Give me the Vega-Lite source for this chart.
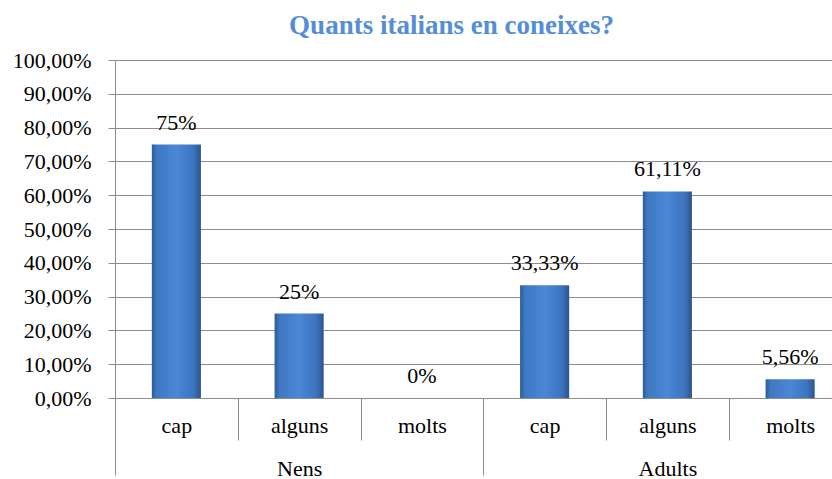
{
  "$schema": "https://vega.github.io/schema/vega-lite/v6.json",
  "autosize": {"type": "none"},
  "padding": {"left": 115, "top": 60, "right": 0, "bottom": 81},
  "width": 717,
  "height": 338,
  "background": "white",
  "config": {
    "view": {"stroke": null},
    "font": "Liberation Serif"
  },
  "title": {
    "text": "Quants italians en coneixes?",
    "font": "Liberation Serif",
    "fontSize": 27,
    "fontWeight": "bold",
    "color": "#558ED5",
    "anchor": "middle",
    "frame": "group",
    "baseline": "alphabetic",
    "dx": -22,
    "dy": 34,
    "offset": 22
  },
  "layer": [
    {
      "data": {
        "values": [
          {"key": "Nens|cap", "group": "Nens", "value": 75, "label": "75%"},
          {"key": "Nens|alguns", "group": "Nens", "value": 25, "label": "25%"},
          {"key": "Nens|molts", "group": "Nens", "value": 0, "label": "0%"},
          {"key": "Adults|cap", "group": "Adults", "value": 33.33, "label": "33,33%"},
          {"key": "Adults|alguns", "group": "Adults", "value": 61.11, "label": "61,11%"},
          {"key": "Adults|molts", "group": "Adults", "value": 5.56, "label": "5,56%"}
        ]
      },
      "encoding": {
        "x": {
          "field": "key",
          "type": "nominal",
          "sort": null,
          "scale": {"range": [0, 736.5], "paddingInner": 0, "paddingOuter": 0},
          "axis": {
            "orient": "bottom",
            "title": null,
            "tickBand": "extent",
            "tickSize": 42,
            "tickColor": "#8c8c8c",
            "domainColor": "#8c8c8c",
            "labelExpr": "split(datum.label, '|')[1]",
            "labelAngle": 0,
            "labelFontSize": 22,
            "labelFont": "Liberation Serif",
            "labelColor": "#000000",
            "labelBaseline": "alphabetic",
            "labelPadding": -8,
            "grid": false
          }
        },
        "y": {
          "field": "value",
          "type": "quantitative",
          "scale": {"domain": [0, 100], "nice": false},
          "axis": {
            "title": null,
            "values": [0, 10, 20, 30, 40, 50, 60, 70, 80, 90, 100],
            "labelExpr": "replace(format(datum.value, '.2f'), '.', ',') + '%'",
            "labelFontSize": 22,
            "labelFont": "Liberation Serif",
            "labelColor": "#000000",
            "tickSize": 7,
            "tickColor": "#8c8c8c",
            "domainColor": "#8c8c8c",
            "gridColor": "#8c8c8c",
            "labelPadding": 17
          }
        }
      },
      "layer": [
        {
          "mark": {
            "type": "bar",
            "width": {"band": 0.4},
            "color": {
              "gradient": "linear",
              "x1": 0, "y1": 0, "x2": 1, "y2": 0,
              "stops": [
                {"offset": 0, "color": "#2E5B97"},
                {"offset": 0.1, "color": "#3F78C2"},
                {"offset": 0.5, "color": "#4A87D6"},
                {"offset": 0.85, "color": "#3C74BE"},
                {"offset": 1, "color": "#2B558E"}
              ]
            },
            "strokeWidth": 0
          }
        },
        {
          "mark": {
            "type": "text",
            "baseline": "alphabetic",
            "dy": -15,
            "fontSize": 22,
            "font": "Liberation Serif",
            "color": "#000000"
          },
          "encoding": {"text": {"field": "label"}}
        }
      ]
    },
    {
      "data": {"values": [{"group": "Nens"}, {"group": "Adults"}]},
      "mark": {"type": "point", "opacity": 0},
      "encoding": {
        "x": {
          "field": "group",
          "type": "nominal",
          "sort": null,
          "scale": {"range": [0, 736.5], "paddingInner": 0, "paddingOuter": 0},
          "axis": {
            "orient": "bottom",
            "title": null,
            "tickBand": "extent",
            "tickSize": 77,
            "tickColor": "#8c8c8c",
            "domain": false,
            "labelAngle": 0,
            "labelFontSize": 22,
            "labelFont": "Liberation Serif",
            "labelColor": "#000000",
            "labelBaseline": "alphabetic",
            "labelPadding": 0,
            "grid": false
          }
        }
      }
    }
  ],
  "resolve": {"scale": {"x": "independent"}, "axis": {"x": "independent"}}
}
